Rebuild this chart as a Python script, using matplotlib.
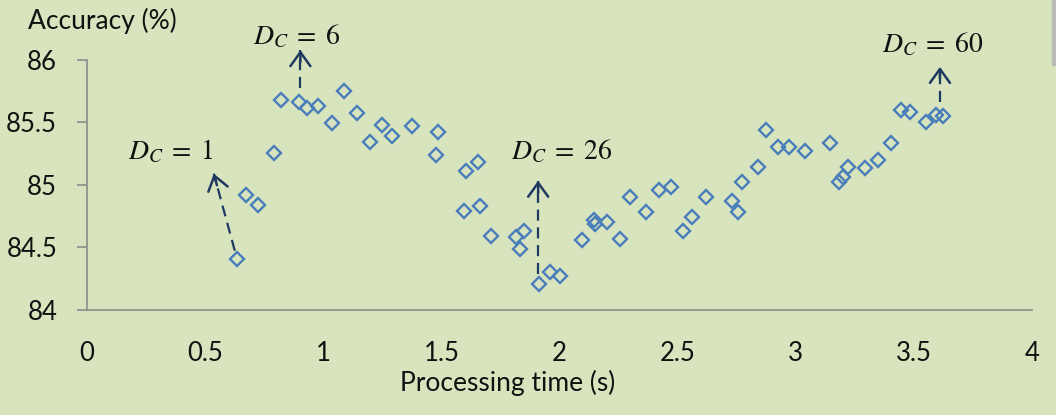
import matplotlib
matplotlib.use('Agg')
import matplotlib.pyplot as plt
from matplotlib.patches import Rectangle
import numpy as np

# D_C = 1 .. 60
proc_time = [0.634, 0.672, 0.723, 0.792, 0.821, 0.899, 0.930, 0.977, 1.036, 1.087,
             1.142, 1.198, 1.248, 1.293, 1.375, 1.485, 1.476, 1.596, 1.603, 1.657,
             1.664, 1.709, 1.815, 1.834, 1.851, 1.914, 1.960, 2.003, 2.094, 2.146,
             2.151, 2.203, 2.257, 2.299, 2.367, 2.423, 2.472, 2.521, 2.560, 2.621,
             2.729, 2.757, 2.772, 2.840, 2.875, 2.923, 2.972, 3.040, 3.144, 3.184,
             3.201, 3.223, 3.292, 3.347, 3.404, 3.446, 3.482, 3.553, 3.592, 3.623]
accuracy = [84.41, 84.92, 84.84, 85.25, 85.68, 85.66, 85.61, 85.63, 85.49, 85.75,
            85.57, 85.34, 85.48, 85.39, 85.47, 85.42, 85.24, 84.79, 85.11, 85.18,
            84.83, 84.59, 84.58, 84.49, 84.63, 84.21, 84.30, 84.27, 84.56, 84.72,
            84.69, 84.70, 84.57, 84.90, 84.78, 84.96, 84.98, 84.63, 84.74, 84.90,
            84.87, 84.78, 85.02, 85.14, 85.44, 85.30, 85.30, 85.27, 85.33, 85.02,
            85.06, 85.14, 85.13, 85.20, 85.33, 85.60, 85.58, 85.50, 85.56, 85.55]

x_ticks = [0, 0.5, 1, 1.5, 2, 2.5, 3, 3.5, 4]
x_tick_labels = ['0', '0.5', '1', '1.5', '2', '2.5', '3', '3.5', '4']
y_ticks = [84, 84.5, 85, 85.5, 86]
y_tick_labels = ['84', '84.5', '85', '85.5', '86']
marked_dc = [1, 6, 26, 60]

BG = '#d8e4bd'
MARKER = '#4a7ebb'
ARROW = '#1f3a60'
AXIS = '#8c8c8c'

# pixel offsets from the marked point (dx, dy up): label centre/baseline, arrow tail, arrow tip
label_off = {1: (-66, 99), 6: (-3, 58), 26: (23, 124), 60: (-10, 63)}
tail_off = {1: (-2, 8), 6: (1, 14), 26: (-1, 10), 60: (-3, 14)}
tip_off = {1: (-23, 85), 6: (1, 52), 26: (-1, 103), 60: (-3, 49)}

plt.rcParams['font.family'] = ['Lato', 'DejaVu Sans']
plt.rcParams['mathtext.fontset'] = 'stix'

W, H = 1056, 415
fig = plt.figure(figsize=(W / 100, H / 100), dpi=100, facecolor=BG)
ax = fig.add_axes([87 / W, 1 - 310 / H, (1032 - 87) / W, (310 - 59.5) / H])
ax.set_facecolor(BG)
ax.set_xlim(0, 4)
ax.set_ylim(84, 86)

ax.plot(proc_time, accuracy, 'D', mfc='none', mec=MARKER, ms=6.8, mew=1.7, clip_on=False)

for s in ['top', 'right']:
    ax.spines[s].set_visible(False)
for s in ['left', 'bottom']:
    ax.spines[s].set_color(AXIS)
    ax.spines[s].set_linewidth(1.2)

ax.set_xticks(x_ticks)
ax.set_xticklabels(x_tick_labels)
ax.set_yticks(y_ticks)
ax.set_yticklabels(y_tick_labels)
ax.tick_params(axis='x', length=0, pad=22, labelsize=18.5, labelcolor='#111111')
ax.tick_params(axis='y', length=7.5, width=1.2, color=AXIS, pad=14, labelsize=18.5,
               labelcolor='#111111')

fig.text(28 / W, 1 - 29 / H, 'Accuracy (%)', ha='left', va='baseline', fontsize=19,
         color='#111111')
fig.text(508 / W, 1 - 391 / H, 'Processing time (s)', ha='center', va='baseline',
         fontsize=19, color='#111111')

# grey strip at the right edge of the screenshot
fig.patches.append(Rectangle((1052 / W, 1 - 65 / H), 4 / W, 65 / H,
                             transform=fig.transFigure, color='#b9b9b9', zorder=0))

to_px = ax.transData
to_data = ax.transData.inverted()


def shift(pt, off):
    p = to_px.transform(pt)
    return to_data.transform((p[0] + off[0], p[1] + off[1]))


for dc in marked_dc:
    pt = (proc_time[dc - 1], accuracy[dc - 1])
    tail = shift(pt, tail_off[dc])
    tip = shift(pt, tip_off[dc])
    lab = shift(pt, label_off[dc])
    # dashed shaft
    ax.plot([tail[0], tip[0]], [tail[1], tip[1]], color=ARROW, lw=1.6,
            dashes=(5, 3), clip_on=False)
    # solid open head
    tp = to_px.transform(tip)
    tl = to_px.transform(tail)
    d = (tl - tp) / np.hypot(*(tl - tp))
    back = to_data.transform(tp + d * 12)
    ax.annotate('', xy=tip, xytext=back, annotation_clip=False,
                arrowprops=dict(arrowstyle='->, head_length=0.5, head_width=0.36',
                                color=ARROW, lw=1.8, mutation_scale=20,
                                shrinkA=0, shrinkB=0))
    ax.text(lab[0], lab[1], r'$D_C \;=\; %d$' % dc, ha='center', va='baseline',
            fontsize=20, color='#111111', clip_on=False)

fig.savefig('out.png', dpi=100, facecolor=BG)
